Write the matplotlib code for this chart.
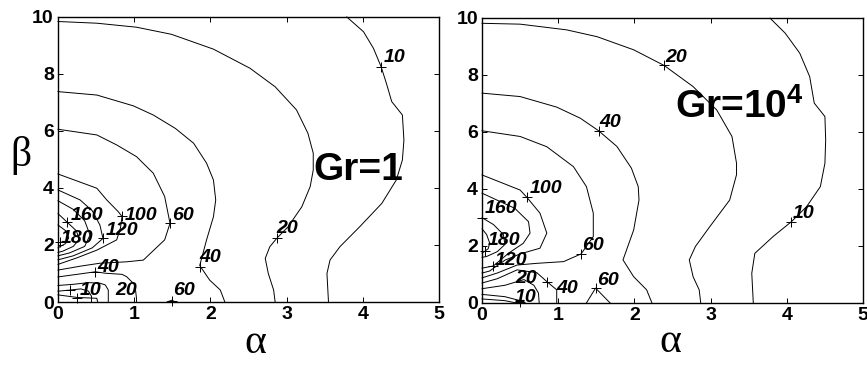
import matplotlib
matplotlib.use('Agg')
import matplotlib.pyplot as plt

plt.rcParams['font.family'] = ['Liberation Sans', 'DejaVu Sans']
plt.rcParams['mathtext.fontset'] = 'custom'
plt.rcParams['mathtext.bf'] = 'Liberation Sans:bold'
plt.rcParams['mathtext.rm'] = 'Liberation Sans:bold'

# ---- Gr = 1 : contour lines (alpha, beta) ----
g1_c10_a = [3.79, 4.01, 4.14, 4.24, 4.31, 4.38, 4.52, 4.54, 4.52, 4.44, 4.25, 3.96, 3.70, 3.57, 3.53, 3.55]
g1_c10_b = [10.0, 9.48, 8.90, 8.26, 7.67, 7.03, 6.56, 5.68, 4.98, 4.28, 3.46, 2.64, 1.94, 1.47, 1.00, 0.0]
g1_c20_a = [0, 0.51, 1.03, 1.49, 2.04, 2.52, 2.85, 3.13, 3.28, 3.35, 3.35, 3.31, 3.20, 3.02, 2.87, 2.78, 2.72, 2.76, 2.83, 2.85]
g1_c20_b = [9.84, 9.78, 9.64, 9.39, 8.87, 8.20, 7.55, 6.74, 5.92, 5.22, 4.63, 4.05, 3.34, 2.64, 2.23, 1.94, 1.53, 1.00, 0.42, 0.0]
g1_c40_a = [0, 0.51, 0.99, 1.25, 1.54, 1.78, 1.95, 2.04, 2.07, 2.04, 1.95, 1.86, 1.99, 2.13, 2.19]
g1_c40_b = [7.38, 7.26, 6.88, 6.56, 6.09, 5.57, 4.87, 4.28, 3.58, 2.99, 2.18, 1.28, 0.77, 0.42, 0.0]
g1_c60_a = [0, 0.51, 0.77, 1.03, 1.25, 1.40, 1.47, 1.40, 1.12, 0.90, 0.55, 0.30, 0]
g1_c60_b = [6.06, 5.86, 5.51, 5.10, 4.52, 3.70, 2.76, 2.18, 1.47, 1.41, 1.36, 1.26, 1.12]
g1_c100_a = [0, 0.51, 0.64, 0.79, 0.84, 0.82, 0.77, 0.51, 0.25, 0]
g1_c100_b = [4.49, 3.99, 3.58, 3.17, 3.00, 2.60, 2.18, 1.82, 1.55, 1.32]
g1_c120_a = [0, 0.29, 0.45, 0.55, 0.59, 0.45, 0.20, 0]
g1_c120_b = [3.93, 3.58, 3.20, 2.70, 2.23, 1.90, 1.62, 1.48]
g1_c140_a = [0, 0.20, 0.35, 0.42, 0.35, 0.15, 0]
g1_c140_b = [3.55, 3.25, 2.85, 2.35, 1.95, 1.72, 1.62]
g1_c160_a = [0, 0.12, 0.24, 0.28, 0.20, 0.06, 0]
g1_c160_b = [3.10, 2.80, 2.50, 2.20, 1.95, 1.78, 1.74]
g1_c180_a = [0, 0.10, 0.14, 0.10, 0.03, 0]
g1_c180_b = [2.70, 2.50, 2.25, 2.05, 1.95, 1.90]
g1_c40l_a = [0, 0.25, 0.49, 0.62, 0.84, 0.90, 1.01, 1.03, 1.03]
g1_c40l_b = [0.88, 0.97, 1.06, 1.01, 0.97, 0.89, 0.60, 0.13, 0.0]
g1_c20l_a = [0, 0.20, 0.40, 0.55, 0.62, 0.66, 0.66]
g1_c20l_b = [0.58, 0.62, 0.68, 0.66, 0.60, 0.42, 0.0]
g1_c10l_a = [0, 0.16, 0.30, 0.40, 0.44, 0.44]
g1_c10l_b = [0.38, 0.42, 0.46, 0.38, 0.20, 0.0]
g1_c5_a = [0, 0.25, 0.51, 0.52]
g1_c5_b = [0.25, 0.16, 0.13, 0.0]
g1_c60s_a = [1.43, 1.49, 1.55]
g1_c60s_b = [0.0, 0.06, 0.0]

g1_mark_a = [4.24, 2.87, 1.86, 1.47, 0.84, 0.59, 0.12, 0.03, 0.49, 0.16, 0.25, 1.49]
g1_mark_b = [8.26, 2.23, 1.24, 2.76, 3.00, 2.23, 2.80, 2.12, 1.06, 0.42, 0.15, 0.05]
g1_text = ['10', '20', '40', '60', '100', '120', '160', '180', '40', '10', '20', '60']
g1_text_a = [4.27, 2.87, 1.86, 1.50, 0.88, 0.62, 0.16, 0.03, 0.51, 0.29, 0.75, 1.51]
g1_text_b = [8.42, 2.42, 1.40, 2.88, 2.88, 2.35, 2.88, 2.07, 1.05, 0.25, 0.25, 0.25]

# ---- Gr = 10^4 ----
g2_c10_a = [3.78, 3.98, 4.17, 4.30, 4.36, 4.50, 4.51, 4.50, 4.44, 4.26, 4.06, 3.82, 3.58, 3.54, 3.56]
g2_c10_b = [9.99, 9.46, 8.76, 7.94, 7.01, 6.54, 5.72, 4.90, 4.08, 3.38, 2.85, 2.33, 1.74, 1.04, 0.0]
g2_c20_a = [0, 0.50, 1.11, 1.51, 1.99, 2.39, 2.77, 3.08, 3.28, 3.34, 3.34, 3.25, 2.99, 2.80, 2.72, 2.77, 2.85, 2.87]
g2_c20_b = [9.81, 9.78, 9.58, 9.34, 8.88, 8.33, 7.59, 6.77, 5.84, 4.90, 4.50, 3.61, 2.68, 1.98, 1.51, 0.92, 0.46, 0.0]
g2_c40_a = [0, 0.50, 0.98, 1.29, 1.53, 1.77, 1.96, 2.05, 2.06, 1.99, 1.85, 1.99, 2.16, 2.23]
g2_c40_b = [7.36, 7.24, 6.87, 6.48, 6.04, 5.49, 4.73, 4.08, 3.61, 2.56, 1.51, 0.92, 0.46, 0.0]
g2_c60_a = [0, 0.50, 0.85, 1.20, 1.37, 1.46, 1.46, 1.30, 1.07, 0.72, 0.46, 0.20, 0]
g2_c60_b = [6.04, 5.84, 5.48, 4.78, 4.08, 3.15, 2.33, 1.72, 1.45, 1.39, 1.33, 1.05, 0.88]
g2_c100_a = [0, 0.50, 0.59, 0.76, 0.85, 0.76, 0.50, 0.30, 0.10, 0]
g2_c100_b = [4.49, 3.96, 3.70, 3.15, 2.45, 1.92, 1.72, 1.50, 1.12, 1.05]
g2_c120_a = [0, 0.43, 0.61, 0.63, 0.54, 0.35, 0.15, 0]
g2_c120_b = [3.85, 3.32, 2.85, 2.45, 2.09, 1.75, 1.30, 1.22]
g2_c160_a = [0, 0.15, 0.28, 0.30, 0.20, 0.06, 0]
g2_c160_b = [2.99, 2.75, 2.40, 2.05, 1.80, 1.63, 1.60]
g2_c180_a = [0, 0.06, 0.10, 0.08, 0.03, 0]
g2_c180_b = [2.60, 2.40, 2.10, 1.90, 1.80, 1.75]
g2_c40l_a = [0, 0.20, 0.46, 0.72, 0.85, 0.98, 0.98]
g2_c40l_b = [0.70, 0.85, 1.16, 1.06, 0.75, 0.46, 0.0]
g2_c20l_a = [0, 0.30, 0.55, 0.68, 0.74, 0.75]
g2_c20l_b = [0.50, 0.62, 0.82, 0.62, 0.35, 0.0]
g2_c10l_a = [0, 0.30, 0.50, 0.52]
g2_c10l_b = [0.30, 0.22, 0.08, 0.0]
g2_c5_a = [0, 0.30, 0.45]
g2_c5_b = [0.14, 0.08, 0.0]
g2_c60s_a = [1.37, 1.49, 1.68]
g2_c60s_b = [0.0, 0.52, 0.0]

g2_mark_a = [2.39, 1.53, 0.59, 0.0, 0.04, 0.15, 1.30, 0.85, 0.50, 1.49, 4.06]
g2_mark_b = [8.33, 6.04, 3.70, 2.99, 1.82, 1.30, 1.72, 0.75, 0.02, 0.52, 2.85]
g2_text = ['20', '40', '100', '160', '180', '120', '60', '20', '40', '10', '60', '10']
g2_text_a = [2.41, 1.54, 0.63, 0.04, 0.08, 0.17, 1.31, 0.43, 0.98, 0.43, 1.51, 4.08]
g2_text_b = [8.46, 6.17, 3.86, 3.16, 2.02, 1.34, 1.86, 0.70, 0.35, 0.02, 0.63, 2.98]

x_ticks = [0, 1, 2, 3, 4, 5]
y_ticks = [0, 2, 4, 6, 8, 10]

g1_lines = [(g1_c10_a, g1_c10_b), (g1_c20_a, g1_c20_b), (g1_c40_a, g1_c40_b), (g1_c60_a, g1_c60_b),
            (g1_c100_a, g1_c100_b), (g1_c120_a, g1_c120_b), (g1_c140_a, g1_c140_b), (g1_c160_a, g1_c160_b),
            (g1_c180_a, g1_c180_b), (g1_c40l_a, g1_c40l_b), (g1_c20l_a, g1_c20l_b), (g1_c10l_a, g1_c10l_b),
            (g1_c5_a, g1_c5_b), (g1_c60s_a, g1_c60s_b)]
g2_lines = [(g2_c10_a, g2_c10_b), (g2_c20_a, g2_c20_b), (g2_c40_a, g2_c40_b), (g2_c60_a, g2_c60_b),
            (g2_c100_a, g2_c100_b), (g2_c120_a, g2_c120_b), (g2_c160_a, g2_c160_b), (g2_c180_a, g2_c180_b),
            (g2_c40l_a, g2_c40l_b), (g2_c20l_a, g2_c20l_b), (g2_c10l_a, g2_c10l_b), (g2_c5_a, g2_c5_b),
            (g2_c60s_a, g2_c60s_b)]


def draw_panel(ax, lines, mark_a, mark_b, texts, text_a, text_b):
    for a, b in lines:
        ax.plot(a, b, color='black', lw=0.7, clip_on=False)
    ax.plot(mark_a, mark_b, ls='none', marker='+', ms=7, mew=0.7, color='black', clip_on=False)
    for t, a, b in zip(texts, text_a, text_b):
        ax.text(a, b, t, fontsize=14, fontweight='bold', fontstyle='italic',
                ha='left', va='baseline')
    ax.set_xlim(0, 5)
    ax.set_ylim(0, 10)
    ax.set_xticks(x_ticks)
    ax.set_yticks(y_ticks)
    ax.tick_params(direction='in', top=True, right=True, length=3.5, width=0.7,
                   labelsize=14, pad=3)
    for lab in ax.get_xticklabels() + ax.get_yticklabels():
        lab.set_fontweight('bold')
    for s in ax.spines.values():
        s.set_linewidth(1.0)


fig = plt.figure(figsize=(8.67, 3.65), dpi=100)
ax1 = fig.add_axes([0.0669, 0.1726, 0.4394, 0.781])
ax2 = fig.add_axes([0.556, 0.170, 0.4394, 0.781])

draw_panel(ax1, g1_lines, g1_mark_a, g1_mark_b, g1_text, g1_text_a, g1_text_b)
draw_panel(ax2, g2_lines, g2_mark_a, g2_mark_b, g2_text, g2_text_a, g2_text_b)

ax1.text(3.35, 4.28, 'Gr=1', fontsize=28, fontweight='bold', ha='left', va='baseline')
ax2.text(2.53, 6.49, r'Gr=10$^{\mathbf{4}}$', fontsize=28, fontweight='bold', ha='left', va='baseline')

greek = dict(family=['Liberation Serif', 'DejaVu Serif'], fontsize=30, ha='center', va='center')
fig.text(0.295, 0.06, '\u03b1', **greek)
fig.text(0.773, 0.065, '\u03b1', **greek)
fig.text(0.024, 0.575, '\u03b2', **greek)

fig.savefig('out.png', dpi=100)
